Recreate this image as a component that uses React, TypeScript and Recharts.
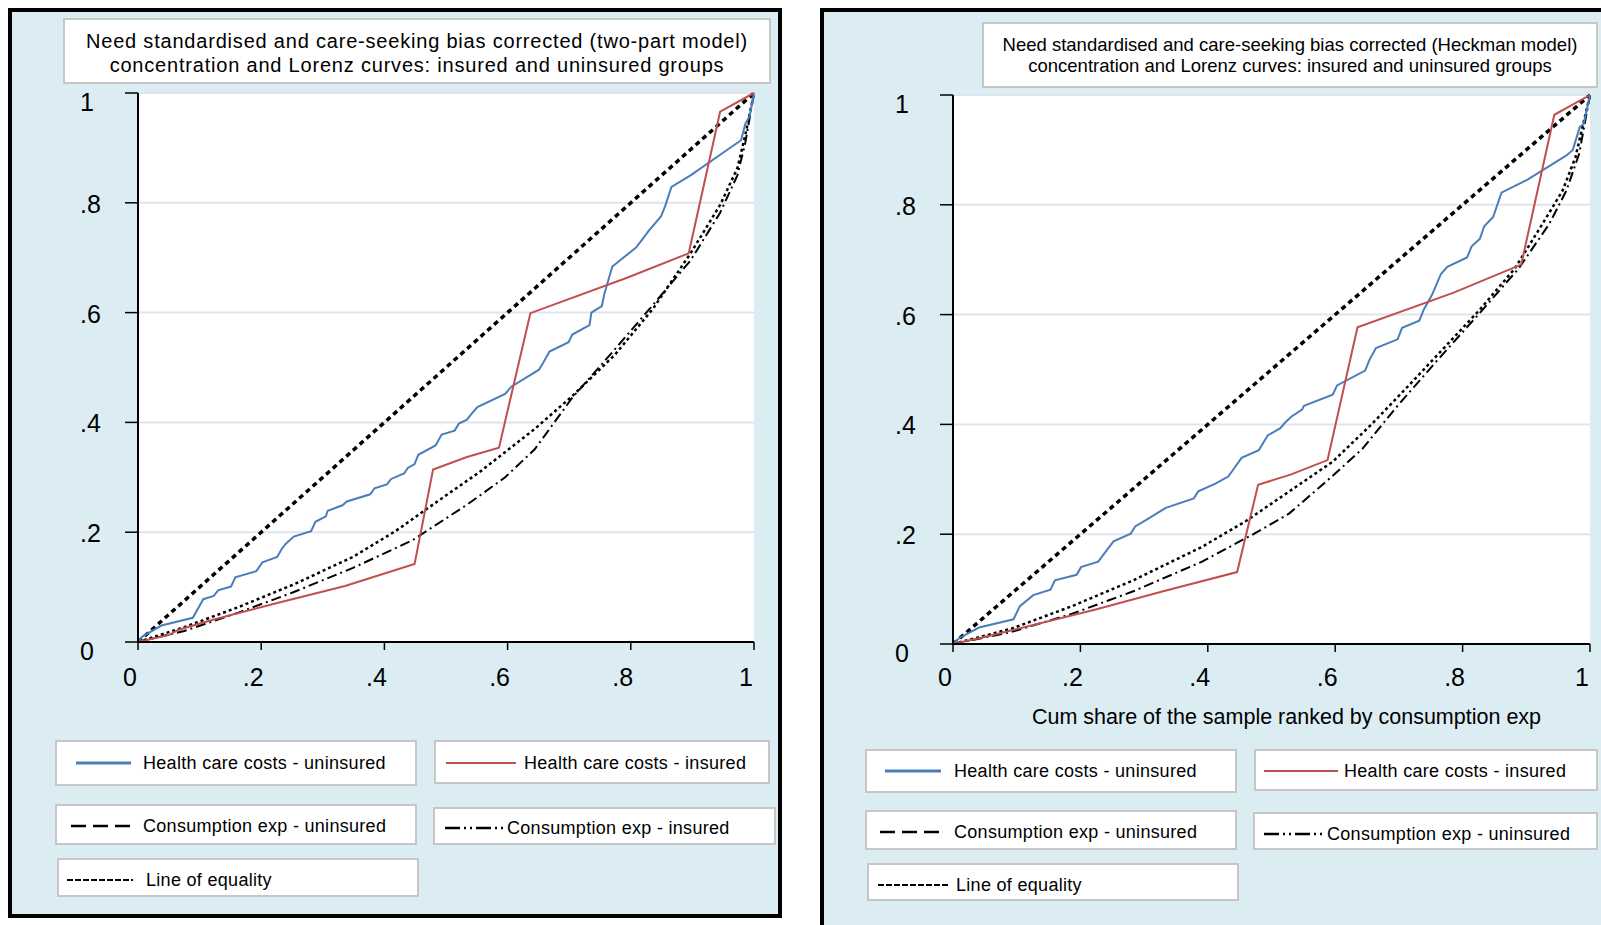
import React from "react";
import { CartesianGrid, Line, LineChart, XAxis, YAxis } from "recharts";

// tick values shared by both axes of both panels
const axisTicks = [0, 0.2, 0.4, 0.6, 0.8, 1];

// ---- left panel: two-part model ----
const tpEqualityX = [0, 1];
const tpEqualityY = [0, 1];
const tpHealthUninsX = [
  0, 0.007, 0.038, 0.089, 0.097, 0.106, 0.123, 0.13, 0.151, 0.158, 0.192, 0.202, 0.226, 0.233, 0.24,
  0.253, 0.281, 0.288, 0.305, 0.308, 0.332, 0.339, 0.377, 0.384, 0.404, 0.411, 0.432, 0.438, 0.449,
  0.455, 0.483, 0.493, 0.514, 0.521, 0.534, 0.541, 0.551, 0.596, 0.606, 0.651, 0.658, 0.668, 0.699,
  0.705, 0.733, 0.736, 0.753, 0.757, 0.77, 0.808, 0.815, 0.829, 0.849, 0.856, 0.866, 0.897, 0.979,
  0.986, 0.993, 1,
];
const tpHealthUninsY = [
  0, 0.01, 0.03, 0.044, 0.06, 0.078, 0.084, 0.094, 0.101, 0.118, 0.129, 0.145, 0.155, 0.169, 0.179,
  0.192, 0.202, 0.219, 0.229, 0.239, 0.249, 0.256, 0.269, 0.28, 0.287, 0.297, 0.307, 0.317, 0.324,
  0.341, 0.358, 0.378, 0.385, 0.398, 0.405, 0.415, 0.428, 0.452, 0.465, 0.496, 0.509, 0.529, 0.546,
  0.56, 0.577, 0.6, 0.612, 0.634, 0.684, 0.718, 0.728, 0.749, 0.775, 0.795, 0.829, 0.85, 0.914,
  0.944, 0.958, 1,
];
const tpHealthInsX = [0, 0.051, 0.065, 0.12, 0.226, 0.336, 0.449, 0.479, 0.534, 0.586, 0.637, 0.795, 0.894, 0.945, 1];
const tpHealthInsY = [0, 0.013, 0.022, 0.04, 0.071, 0.102, 0.142, 0.314, 0.337, 0.354, 0.599, 0.664, 0.708, 0.966, 1];
const tpConsUninsX = [0, 0.075, 0.164, 0.253, 0.349, 0.418, 0.486, 0.555, 0.644, 0.705, 0.774, 0.836, 0.897, 0.945, 0.973, 0.986, 1];
const tpConsUninsY = [0, 0.027, 0.064, 0.105, 0.155, 0.202, 0.256, 0.31, 0.388, 0.448, 0.523, 0.607, 0.708, 0.796, 0.863, 0.924, 1];
const tpConsInsX = [0, 0.075, 0.164, 0.253, 0.349, 0.445, 0.534, 0.596, 0.644, 0.705, 0.774, 0.836, 0.897, 0.945, 0.973, 0.986, 1];
const tpConsInsY = [0, 0.02, 0.054, 0.091, 0.135, 0.185, 0.25, 0.3, 0.351, 0.445, 0.533, 0.614, 0.695, 0.782, 0.85, 0.91, 1];

// ---- right panel: Heckman model ----
const hkEqualityX = [0, 1];
const hkEqualityY = [0, 1];
const hkHealthUninsX = [
  0, 0.01, 0.041, 0.095, 0.105, 0.126, 0.153, 0.16, 0.194, 0.201, 0.228, 0.235, 0.252, 0.279, 0.286,
  0.306, 0.334, 0.378, 0.385, 0.412, 0.432, 0.439, 0.453, 0.48, 0.494, 0.514, 0.521, 0.531, 0.548,
  0.551, 0.596, 0.603, 0.647, 0.654, 0.664, 0.698, 0.705, 0.732, 0.739, 0.752, 0.766, 0.776, 0.807,
  0.814, 0.827, 0.834, 0.848, 0.861, 0.902, 0.963, 0.973, 0.984, 0.99, 1,
];
const hkHealthUninsY = [
  0, 0.011, 0.03, 0.045, 0.069, 0.089, 0.099, 0.116, 0.126, 0.14, 0.15, 0.161, 0.187, 0.201, 0.214,
  0.228, 0.248, 0.265, 0.278, 0.292, 0.305, 0.316, 0.339, 0.353, 0.38, 0.393, 0.403, 0.414, 0.427,
  0.434, 0.454, 0.471, 0.498, 0.518, 0.539, 0.555, 0.576, 0.589, 0.609, 0.636, 0.674, 0.687, 0.704,
  0.724, 0.738, 0.761, 0.778, 0.822, 0.846, 0.89, 0.9, 0.942, 0.947, 1,
];
const hkHealthInsX = [0, 0.058, 0.221, 0.33, 0.446, 0.479, 0.531, 0.588, 0.635, 0.786, 0.892, 0.944, 1];
const hkHealthInsY = [0, 0.015, 0.062, 0.096, 0.131, 0.29, 0.309, 0.335, 0.577, 0.64, 0.691, 0.964, 1];
const hkConsUninsX = [0, 0.092, 0.187, 0.283, 0.391, 0.46, 0.528, 0.596, 0.657, 0.718, 0.773, 0.827, 0.882, 0.929, 0.957, 0.977, 1];
const hkConsUninsY = [0, 0.028, 0.069, 0.116, 0.177, 0.224, 0.278, 0.332, 0.4, 0.474, 0.542, 0.609, 0.684, 0.772, 0.826, 0.886, 1];
const hkConsInsX = [0, 0.092, 0.187, 0.283, 0.391, 0.473, 0.528, 0.589, 0.643, 0.698, 0.759, 0.827, 0.888, 0.936, 0.963, 0.983, 1];
const hkConsInsY = [0, 0.022, 0.055, 0.096, 0.15, 0.201, 0.238, 0.299, 0.356, 0.434, 0.515, 0.603, 0.684, 0.765, 0.826, 0.893, 1];

const zip = (xs: number[], ys: number[]) => xs.map((x, i) => ({ x, y: ys[i] }));

const BLUE = "#4a7ebb";
const RED = "#c0504d";
const PANEL_BG = "#dbedf3";
const FONT = '"Liberation Sans", Arial, sans-serif';

const fmt = (v: number) => (v === 0 ? "0" : v === 1 ? "1" : "." + Math.round(v * 10));

const makeYTick = (labelX: number) => (props: any) => {
  const { y, payload } = props;
  const v = payload.value;
  const dy = v === 0 || v === 1 ? 9 : 1;
  return (
    <text x={labelX} y={y + dy} textAnchor="start" dominantBaseline="central" fontSize={25} fill="#000" fontFamily={FONT}>
      {fmt(v)}
    </text>
  );
};

const makeXTick = (labelY: number) => (props: any) => {
  const { x, payload } = props;
  return (
    <text x={x - 8} y={labelY} textAnchor="middle" dominantBaseline="central" fontSize={25} fill="#000" fontFamily={FONT}>
      {fmt(payload.value)}
    </text>
  );
};

type Series = { equality: any[]; healthUnins: any[]; healthIns: any[]; consUnins: any[]; consIns: any[] };

const Panel: React.FC<{
  series: Series;
  left: number;
  width: number;
  margin: { top: number; right: number; bottom: number; left: number };
  yLabelX: number;
  xLabelY: number;
}> = ({ series, left, width, margin, yLabelX, xLabelY }) => (
  <div style={{ position: "absolute", left, top: 0 }}>
    <LineChart width={width} height={700} margin={margin}>
      <CartesianGrid vertical={false} stroke="#dfe4ee" strokeWidth={2} fill="#ffffff" />
      <XAxis
        type="number"
        dataKey="x"
        domain={[0, 1]}
        ticks={axisTicks}
        height={40}
        tickSize={8}
        axisLine={{ stroke: "#000", strokeWidth: 2 }}
        tickLine={{ stroke: "#000", strokeWidth: 1.5 }}
        tick={makeXTick(xLabelY)}
      />
      <YAxis
        type="number"
        dataKey="y"
        domain={[0, 1]}
        ticks={axisTicks}
        width={60}
        tickSize={13}
        axisLine={{ stroke: "#000", strokeWidth: 2 }}
        tickLine={{ stroke: "#000", strokeWidth: 1.5 }}
        tick={makeYTick(yLabelX)}
      />
      <Line data={series.equality} dataKey="y" type="linear" stroke="#000" strokeWidth={3.5} strokeDasharray="5 4" dot={false} isAnimationActive={false} />
      <Line data={series.consUnins} dataKey="y" type="linear" stroke="#000" strokeWidth={2.5} strokeDasharray="3 3" dot={false} isAnimationActive={false} />
      <Line data={series.consIns} dataKey="y" type="linear" stroke="#000" strokeWidth={2} strokeDasharray="10 4 2 4" dot={false} isAnimationActive={false} />
      <Line data={series.healthUnins} dataKey="y" type="linear" stroke={BLUE} strokeWidth={2} dot={false} isAnimationActive={false} />
      <Line data={series.healthIns} dataKey="y" type="linear" stroke={RED} strokeWidth={2} dot={false} isAnimationActive={false} />
    </LineChart>
  </div>
);

const LegendIcon: React.FC<{ kind: string; width: number }> = ({ kind, width }) => {
  const common = { x1: 0, y1: 5, x2: width, y2: 5 };
  let line;
  if (kind === "blue") line = <line {...common} stroke={BLUE} strokeWidth={3} />;
  else if (kind === "red") line = <line {...common} stroke={RED} strokeWidth={2} />;
  else if (kind === "dash") line = <line {...common} stroke="#000" strokeWidth={2.5} strokeDasharray="15 7" />;
  else if (kind === "dashdot") line = <line {...common} stroke="#000" strokeWidth={2.5} strokeDasharray="15 4 2 4 2 4" />;
  else line = <line {...common} stroke="#000" strokeWidth={2} strokeDasharray="6 2" />;
  return (
    <svg width={width} height={10} style={{ position: "absolute", left: 0, top: -5 }}>
      {line}
    </svg>
  );
};

const LegendBox: React.FC<{
  box: [number, number, number, number];
  icon: string;
  iconX: number;
  iconW: number;
  textX: number;
  cy: number;
  label: string;
}> = ({ box, icon, iconX, iconW, textX, cy, label }) => (
  <>
    <div
      style={{
        position: "absolute",
        left: box[0],
        top: box[1],
        width: box[2] - box[0],
        height: box[3] - box[1],
        background: "#fff",
        border: "2px solid #c6c6c6",
        boxSizing: "border-box",
      }}
    />
    <div style={{ position: "absolute", left: iconX, top: cy }}>
      <LegendIcon kind={icon} width={iconW} />
    </div>
    <div
      style={{
        position: "absolute",
        left: textX,
        top: cy - 12,
        height: 24,
        lineHeight: "24px",
        fontSize: 18,
        letterSpacing: 0.3,
        whiteSpace: "nowrap",
      }}
    >
      {label}
    </div>
  </>
);

const TitleBox: React.FC<{ box: [number, number, number, number]; lines: string[]; ys: number[]; fontSize: number; spacing: number }> = ({
  box,
  lines,
  ys,
  fontSize,
  spacing,
}) => (
  <>
    <div
      style={{
        position: "absolute",
        left: box[0],
        top: box[1],
        width: box[2] - box[0],
        height: box[3] - box[1],
        background: "#fff",
        border: "2px solid #c6c6c6",
        boxSizing: "border-box",
      }}
    />
    {lines.map((t, i) => (
      <div
        key={i}
        style={{
          position: "absolute",
          left: box[0],
          width: box[2] - box[0],
          top: ys[i] - 13,
          height: 26,
          lineHeight: "26px",
          textAlign: "center",
          fontSize,
          letterSpacing: spacing,
          whiteSpace: "nowrap",
        }}
      >
        {t}
      </div>
    ))}
  </>
);

export default function App() {
  const tp: Series = {
    equality: zip(tpEqualityX, tpEqualityY),
    healthUnins: zip(tpHealthUninsX, tpHealthUninsY),
    healthIns: zip(tpHealthInsX, tpHealthInsY),
    consUnins: zip(tpConsUninsX, tpConsUninsY),
    consIns: zip(tpConsInsX, tpConsInsY),
  };
  const hk: Series = {
    equality: zip(hkEqualityX, hkEqualityY),
    healthUnins: zip(hkHealthUninsX, hkHealthUninsY),
    healthIns: zip(hkHealthInsX, hkHealthInsY),
    consUnins: zip(hkConsUninsX, hkConsUninsY),
    consIns: zip(hkConsInsX, hkConsInsY),
  };

  return (
    <div
      style={{
        position: "fixed",
        left: 0,
        top: 0,
        width: 1601,
        height: 925,
        overflow: "hidden",
        background: "#fff",
        fontFamily: FONT,
        color: "#000",
      }}
    >
      {/* panel frames */}
      <div
        style={{
          position: "absolute",
          left: 8,
          top: 8,
          width: 774,
          height: 910,
          background: PANEL_BG,
          border: "4px solid #000",
          boxSizing: "border-box",
        }}
      />
      <div
        style={{
          position: "absolute",
          left: 820,
          top: 8,
          width: 800,
          height: 940,
          background: PANEL_BG,
          border: "4px solid #000",
          boxSizing: "border-box",
        }}
      />

      <TitleBox
        box={[63, 18, 771, 84]}
        lines={[
          "Need standardised and care-seeking bias corrected (two-part model)",
          "concentration and Lorenz curves: insured and uninsured groups",
        ]}
        ys={[41, 65]}
        fontSize={20}
        spacing={0.8}
      />
      <TitleBox
        box={[982, 22, 1598, 88]}
        lines={[
          "Need standardised and care-seeking bias corrected (Heckman model)",
          "concentration and Lorenz curves: insured and uninsured groups",
        ]}
        ys={[45, 66]}
        fontSize={18.5}
        spacing={0}
      />

      <Panel series={tp} left={0} width={800} margin={{ top: 93, right: 46, bottom: 18, left: 78 }} yLabelX={80} xLabelY={677} />
      <Panel series={hk} left={800} width={801} margin={{ top: 95, right: 11, bottom: 16, left: 93 }} yLabelX={95} xLabelY={677} />

      <div
        style={{
          position: "absolute",
          left: 1029,
          top: 704,
          width: 515,
          height: 26,
          lineHeight: "26px",
          fontSize: 21.5,
          textAlign: "center",
          whiteSpace: "nowrap",
        }}
      >
        Cum share of the sample ranked by consumption exp
      </div>

      {/* legends, left panel */}
      <LegendBox box={[55, 740, 417, 786]} icon="blue" iconX={76} iconW={55} textX={143} cy={763} label="Health care costs - uninsured" />
      <LegendBox box={[434, 740, 770, 784]} icon="red" iconX={446} iconW={70} textX={524} cy={763} label="Health care costs - insured" />
      <LegendBox box={[55, 804, 417, 845]} icon="dash" iconX={71} iconW={60} textX={143} cy={826} label="Consumption exp - uninsured" />
      <LegendBox box={[433, 807, 776, 845]} icon="dashdot" iconX={445} iconW={60} textX={507} cy={828} label="Consumption exp - insured" />
      <LegendBox box={[57, 858, 419, 897]} icon="eq" iconX={67} iconW={66} textX={146} cy={880} label="Line of equality" />

      {/* legends, right panel */}
      <LegendBox box={[865, 749, 1237, 793]} icon="blue" iconX={885} iconW={56} textX={954} cy={771} label="Health care costs - uninsured" />
      <LegendBox box={[1254, 749, 1598, 791]} icon="red" iconX={1264} iconW={74} textX={1344} cy={771} label="Health care costs - insured" />
      <LegendBox box={[865, 810, 1237, 850]} icon="dash" iconX={880} iconW={65} textX={954} cy={832} label="Consumption exp - uninsured" />
      <LegendBox box={[1253, 812, 1598, 850]} icon="dashdot" iconX={1264} iconW={61} textX={1327} cy={834} label="Consumption exp - uninsured" />
      <LegendBox box={[867, 863, 1239, 901]} icon="eq" iconX={878} iconW={70} textX={956} cy={885} label="Line of equality" />
    </div>
  );
}
